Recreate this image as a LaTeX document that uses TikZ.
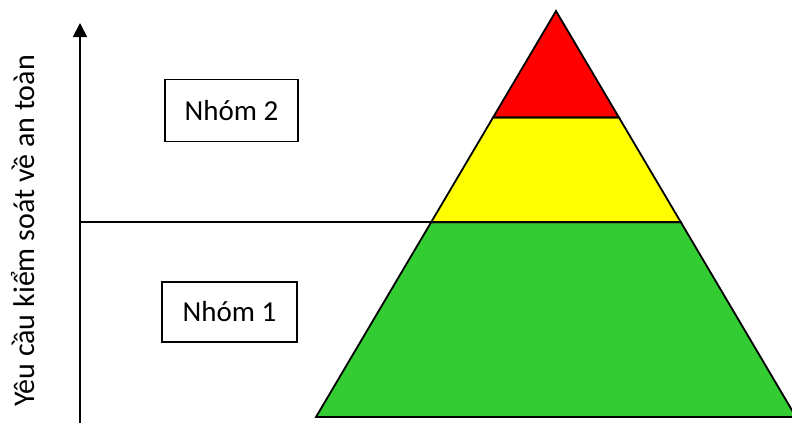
\documentclass[tikz,border=0pt]{standalone}
\usepackage{fontspec}
\setmainfont{Carlito}
\usepackage{tikz}
\usetikzlibrary{positioning,arrows.meta,calc}
\definecolor{pyrred}{HTML}{FF0000}
\definecolor{pyryellow}{HTML}{FFFF00}
\definecolor{pyrgreen}{HTML}{33CC33}

\begin{document}
\begin{tikzpicture}[x=1pt,y=-1pt,
  groupbox/.style={draw,line width=1.2pt,fill=white,minimum width=133pt,minimum height=62pt,inner sep=0pt,font=\fontsize{29}{34}\selectfont},
  tier/.style={draw=black,line width=1.8pt,line join=miter},
  lab/.style={font=\fontsize{30}{36}\selectfont}
]
\useasboundingbox (0,0) rectangle (792,423);
\begin{scope}
\clip (0,0) rectangle (792,423);
% pyramid tiers
\coordinate (top) at (556,11);
\coordinate (bl) at (316,417);
\coordinate (br) at (796,417);
\coordinate (rl) at ($(top)!0.262!(bl)$);
\coordinate (rr) at ($(top)!0.262!(br)$);
\coordinate (yl) at ($(top)!0.52!(bl)$);
\coordinate (yr) at ($(top)!0.52!(br)$);
\filldraw[tier,fill=pyrgreen] (yl) -- (yr) -- (br) -- (bl) -- cycle;
\filldraw[tier,fill=pyryellow] (rl) -- (rr) -- (yr) -- (yl) -- cycle;
\filldraw[tier,fill=pyrred] (top) -- (rr) -- (rl) -- cycle;
\end{scope}

% axis
\coordinate (ax0) at (80,423);
\coordinate (ax1) at (80,23);
\coordinate (split) at (80,0 |- yl);
\draw[line width=1.7pt,-{Triangle[length=14pt,width=14pt]}] (ax0) -- (ax1);
\draw[line width=1.6pt] (split) -- (yl);

\node[lab,rotate=90] (axlabel) at (23,231) {Yêu cầu kiểm soát về an toàn};

\node[groupbox] (g2) at (231.5,110.5) {Nhóm 2};
\node[groupbox,minimum width=135pt,minimum height=60pt] (g1) at (229.5,312) {Nhóm 1};
\end{tikzpicture}
\end{document}
